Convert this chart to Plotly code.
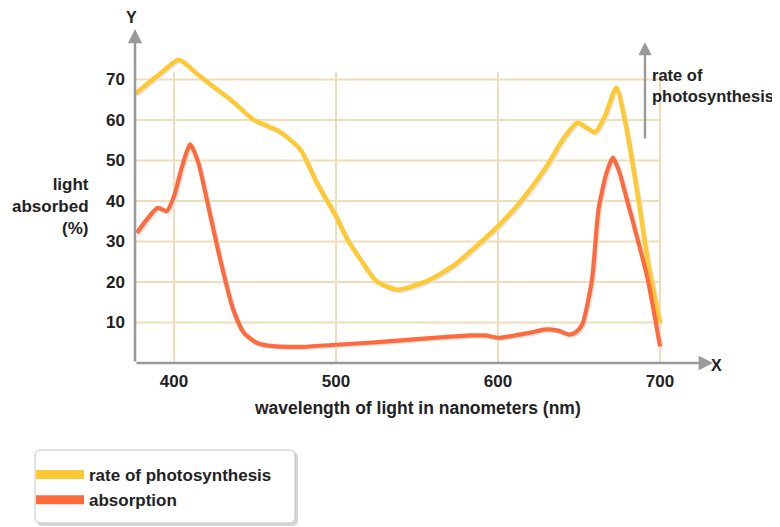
import plotly.graph_objects as go

# ---------------- data ----------------
wl_photo = [376, 390, 403, 414, 424, 435, 449, 465, 478, 488, 500, 507, 515, 525, 538, 556,
            572, 589, 602, 615, 630, 640, 649, 655, 660, 666, 673, 679, 686, 693, 700]
rate_photo = [66.5, 71.0, 74.9, 71.5, 68.3, 65.0, 60.1, 57.2, 52.7, 44.6, 36.2, 30.5, 25.6, 20.2, 18.1, 20.2,
              23.9, 29.7, 34.6, 40.4, 48.6, 55.2, 59.3, 58.0, 57.0, 61.0, 68.0, 58.5, 42.0, 23.9, 9.9]

wl_abs = [377, 390, 395.5, 400, 405, 410, 415, 422, 429, 436.5, 443, 451, 458, 470, 480, 500, 520,
          540, 560, 583, 592, 600.5, 610, 620, 629.5, 637, 644, 648, 652, 658, 662, 667, 671, 675,
          679.5, 692, 700]
absorption = [32.1, 38.3, 37.5, 41.2, 48.6, 54.0, 49.4, 37.1, 24.7, 13.2, 7.5, 5.0, 4.3, 4.0, 4.0, 4.5, 5.0,
              5.6, 6.2, 6.8, 6.8, 6.2, 6.8, 7.5, 8.3, 8.0, 7.0, 7.6, 9.5, 20.6, 37.9, 47.0, 50.7, 47.0,
              40.4, 21.4, 4.1]

x_ticks = [400, 500, 600, 700]
y_ticks = [10, 20, 30, 40, 50, 60, 70]
series_names = ["rate of photosynthesis", "absorption"]

# ---------------- style ----------------
YELLOW = "#FFC933"
ORANGE = "#FF6A3D"
SHADOW = "#E3E3E3"
GRID = "#EFDDB8"
AXIS = "#9A9A9A"
TXT = "#222222"
FONT = "Liberation Sans, Arial, sans-serif"
FS = 17

W, H = 780, 527
OFF = 8                                     # page body margin of the browser
PL, PR, PT, PB = 135, 713, 29, 363          # plot area in window pixels
PW, PH = PR - PL, PB - PT
XR = [375.9, 732.7]
YR = [0, (PB - PT) / 4.05]
dxs = 1.5 * (XR[1] - XR[0]) / PW
dys = 1.5 * (YR[1] - YR[0]) / PH


def px(x, y):
    """window pixel -> paper coordinates (margins are zero, paper == whole figure)"""
    return (x - OFF) / W, (H - (y - OFF)) / H


fig = go.Figure()

# shadows on the base axes (range shifted 1.5px right/down)
for xs, ys in [(wl_photo, rate_photo), (wl_abs, absorption)]:
    fig.add_trace(go.Scatter(x=xs, y=ys, xaxis="x", yaxis="y", mode="lines",
                             line=dict(color=SHADOW, width=4, shape="spline", smoothing=0.6),
                             showlegend=False, hoverinfo="skip"))

fig.add_trace(go.Scatter(x=wl_photo, y=rate_photo, xaxis="x2", yaxis="y2", mode="lines",
                         name=series_names[0],
                         line=dict(color=YELLOW, width=4.5, shape="spline", smoothing=0.6),
                         showlegend=False))
fig.add_trace(go.Scatter(x=wl_abs, y=absorption, xaxis="x2", yaxis="y2", mode="lines",
                         name=series_names[1],
                         line=dict(color=ORANGE, width=4.2, shape="spline", smoothing=0.6),
                         showlegend=False))

# legend entries (thicker swatches)
for nm, col in zip(series_names, [YELLOW, ORANGE]):
    fig.add_trace(go.Scatter(x=[None], y=[None], xaxis="x2", yaxis="y2", mode="lines", name=nm,
                             line=dict(color=col, width=9), showlegend=True))

shapes = []
for v in y_ticks:
    shapes.append(dict(type="line", xref="x2", yref="y2", x0=XR[0], x1=700,
                       y0=v, y1=v, line=dict(color=GRID, width=2), layer="below"))
for v in x_ticks:
    shapes.append(dict(type="line", xref="x2", yref="y2", x0=v, x1=v, y0=0, y1=71.8,
                       line=dict(color=GRID, width=2), layer="below"))


def rounded(x0, y0, x1, y1, r):
    a0, b0 = px(x0, y0)
    a1, b1 = px(x1, y1)
    rx, ry = r / W, r / H
    return (f"M {a0+rx},{b0} L {a1-rx},{b0} Q {a1},{b0} {a1},{b0-ry} "
            f"L {a1},{b1+ry} Q {a1},{b1} {a1-rx},{b1} L {a0+rx},{b1} Q {a0},{b1} {a0},{b1+ry} "
            f"L {a0},{b0-ry} Q {a0},{b0} {a0+rx},{b0} Z")


shapes.append(dict(type="path", xref="paper", yref="paper", path=rounded(37, 452, 298, 526, 6),
                   fillcolor="#D5D5D5", line=dict(width=0), layer="below"))
shapes.append(dict(type="path", xref="paper", yref="paper", path=rounded(35, 450, 295, 523, 6),
                   fillcolor="white", line=dict(color="#C4C4C4", width=1), layer="below"))

annotations = []


def arrow(x0, y0, x1, y1, width=2.6):
    hx, hy = px(x1, y1)
    annotations.append(dict(xref="paper", yref="paper", x=hx, y=hy, ax=x0 - x1, ay=y0 - y1,
                            axref="pixel", ayref="pixel", text="", showarrow=True,
                            arrowhead=2, arrowsize=1.1, arrowwidth=width, arrowcolor=AXIS))


arrow(PL, PB, PR, PB)          # x axis
arrow(PL, PB, PL, PT)          # y axis
arrow(645, 140, 645, 42, 2.4)  # side arrow


def label(text, x, y, xanchor="center", yanchor="middle", size=FS, align="center"):
    a, b = px(x, y)
    annotations.append(dict(xref="paper", yref="paper", x=a, y=b, text=text, showarrow=False,
                            xanchor=xanchor, yanchor=yanchor, align=align,
                            font=dict(family=FONT, size=size, color=TXT, weight="bold")))


label("Y", 131, 18, size=16)
label("X", 709, 365, xanchor="left", size=16)
label("light<br>absorbed<br>(%)", 91, 207, xanchor="right", align="right")
label("wavelength of light in nanometers (nm)", 417, 408, size=17.5)
label("rate of<br>photosynthesis", 650, 85, xanchor="left", align="left", size=16.5)

lx, ly = px(31, 457)
tickfont = dict(family=FONT, size=FS, color=TXT, weight="bold")

fig.update_layout(
    width=W, height=H,
    margin=dict(l=0, r=0, t=0, b=0, pad=0),
    paper_bgcolor="white", plot_bgcolor="white",
    shapes=shapes, annotations=annotations,
    showlegend=True,
    legend=dict(x=lx, y=ly, xanchor="left", yanchor="top", bgcolor="rgba(0,0,0,0)",
                borderwidth=0, itemwidth=48, tracegroupgap=0,
                font=dict(family=FONT, size=FS, color=TXT, weight="bold")),
    xaxis=dict(domain=[(PL - OFF) / W, (PR - OFF) / W], range=[XR[0] - dxs, XR[1] - dxs],
               visible=False, fixedrange=True),
    yaxis=dict(domain=[(H - (PB - OFF)) / H, (H - (PT - OFF)) / H], range=[YR[0] + dys, YR[1] + dys],
               visible=False, fixedrange=True),
    xaxis2=dict(range=XR, overlaying="x", anchor="y2", showgrid=False, zeroline=False, showline=False,
                tickmode="array", tickvals=x_ticks, ticks="", ticklabelstandoff=6,
                tickfont=tickfont, fixedrange=True),
    yaxis2=dict(range=YR, overlaying="y", anchor="x2", showgrid=False, zeroline=False, showline=False,
                tickmode="array", tickvals=y_ticks, ticks="", ticklabelstandoff=9,
                tickfont=tickfont, fixedrange=True),
)

fig.write_html("out.html")
